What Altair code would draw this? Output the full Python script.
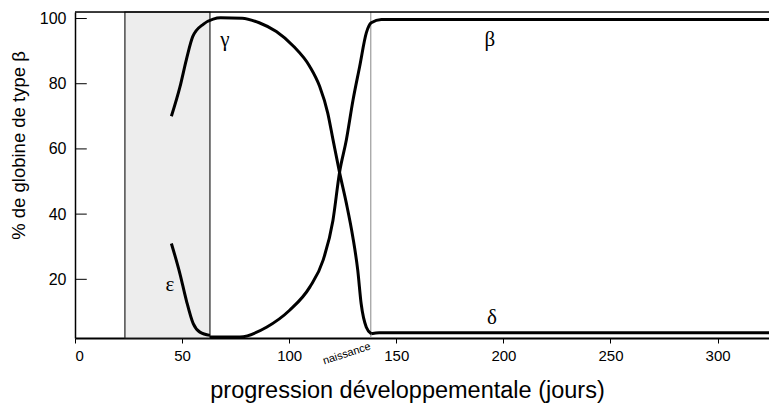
import altair as alt
import pandas as pd

# ---- data ----
gamma_x = [45, 49, 52, 55, 60, 64.5, 68, 78, 86, 94, 102, 109.6, 114.2, 118, 120.4, 123.5, 126.7, 129.7, 132, 133.6, 136, 138.3]
gamma_y = [70, 79, 87.4, 94.5, 98.3, 99.8, 100.2, 100.1, 98.7, 96, 91.5, 85.3, 79.2, 71, 63, 52.8, 43.3, 33, 22.8, 12.5, 5.3, 3.3]

beta_x = [63, 77, 89.4, 100.2, 109.6, 115.8, 120.4, 123.5, 126.7, 129.8, 132.9, 136, 138.3, 143, 324]
beta_y = [2.3, 2.3, 5.3, 10.5, 17.6, 25.8, 38, 52.8, 62.8, 75, 85.3, 95.6, 98.7, 99.7, 99.7]

delta_x = [138.3, 142, 324]
delta_y = [3.3, 3.6, 3.6]

eps_x = [45, 49, 52, 55.2, 58.3, 63]
eps_y = [31, 21.7, 13.5, 6.4, 3.8, 2.8]

label_text = ["γ", "β", "δ", "ε"]
label_x = [70, 193.7, 194.6, 44.3]
label_y = [93.4, 93.4, 8.1, 18.3]

y_ticks = [20, 40, 60, 80, 100]
x_ticks = [0, 50, 100, 150, 200, 250, 300]
embryo_start, embryo_end = 23.3, 63
birth_day = 138.1

X_DOM = [0, 324]
Y_DOM = [2, 102]

rows = []
for name, xs, ys in [("gamma", gamma_x, gamma_y), ("beta", beta_x, beta_y),
                     ("delta", delta_x, delta_y), ("epsilon", eps_x, eps_y)]:
    for i, (a, b) in enumerate(zip(xs, ys)):
        rows.append({"serie": name, "jour": a, "pct": b, "ordre": i})
curves = pd.DataFrame(rows)

xs = alt.Scale(domain=X_DOM, nice=False, zero=False)
ys = alt.Scale(domain=Y_DOM, nice=False, zero=False)

x_axis = alt.Axis(values=x_ticks, grid=False, domainWidth=2, domainColor="black",
                  tickColor="black", tickSize=5, labelFontSize=15, labelColor="black",
                  labelFont="Liberation Sans", labelPadding=5,
                  title="progression développementale (jours)", titleFont="Liberation Sans",
                  titleFontSize=23.5, titleFontWeight="normal", titleColor="black",
                  titlePadding=15, titleX=332, titleAlign="center")
y_axis = alt.Axis(values=y_ticks, grid=False, domainWidth=1.5, domainColor="black",
                  ticks=False, labelFontSize=16, labelColor="black",
                  labelFont="Liberation Sans", labelPadding=9,
                  title="% de globine de type β", titleFont="Liberation Sans",
                  titleFontSize=18.5, titleFontWeight="normal", titleColor="black",
                  titlePadding=11, titleY=133, titleAlign="center")

# stippled embryonic period box
box = alt.Chart(pd.DataFrame({"a": [embryo_start], "b": [embryo_end], "lo": [Y_DOM[0]], "hi": [Y_DOM[1]]})).mark_rect(
    fill="#ededed", stroke="#222222", strokeWidth=1.2
).encode(
    x=alt.X("a:Q", scale=xs, axis=x_axis), x2="b:Q",
    y=alt.Y("lo:Q", scale=ys, axis=y_axis), y2="hi:Q"
)

birth = alt.Chart(pd.DataFrame({"x": [birth_day], "lo": [Y_DOM[0]], "hi": [Y_DOM[1]]})).mark_rule(
    color="#888888", strokeWidth=1
).encode(x=alt.X("x:Q", scale=xs), y=alt.Y("lo:Q", scale=ys), y2="hi:Q")

top = alt.Chart(pd.DataFrame({"a": [X_DOM[0]], "b": [X_DOM[1]], "y": [Y_DOM[1]]})).mark_rule(
    color="black", strokeWidth=1.5
).encode(x=alt.X("a:Q", scale=xs), x2="b:Q", y=alt.Y("y:Q", scale=ys))

yt = alt.Chart(pd.DataFrame({"y": y_ticks, "a": [0] * len(y_ticks), "b": [5.5] * len(y_ticks)})).mark_rule(
    color="black", strokeWidth=1
).encode(x=alt.X("a:Q", scale=xs), x2="b:Q", y=alt.Y("y:Q", scale=ys))

lines = alt.Chart(curves).mark_line(color="black", strokeWidth=3, interpolate="monotone").encode(
    x=alt.X("jour:Q", scale=xs), y=alt.Y("pct:Q", scale=ys), detail="serie:N", order="ordre:Q"
)

labels = alt.Chart(pd.DataFrame({"t": label_text, "x": label_x, "y": label_y})).mark_text(
    font="Liberation Serif", fontSize=21, color="black", align="center", baseline="middle"
).encode(x=alt.X("x:Q", scale=xs), y=alt.Y("y:Q", scale=ys), text="t:N")

naiss = alt.Chart(pd.DataFrame({"t": ["naissance"], "x": [126.9], "y": [-2.9]})).mark_text(
    font="Liberation Sans", fontSize=11, color="black", angle=342, align="center", baseline="middle"
).encode(x=alt.X("x:Q", scale=xs), y=alt.Y("y:Q", scale=ys), text="t:N")

chart = alt.layer(box, birth, top, yt, lines, labels, naiss).properties(
    width=694, height=326,
    padding={"left": 75, "top": 12, "right": 0, "bottom": 65},
    autosize=alt.AutoSizeParams(type="none"),
).configure_view(stroke=None).configure(background="white")

chart.save("out.html", embed_options={"renderer": "svg", "actions": False})
